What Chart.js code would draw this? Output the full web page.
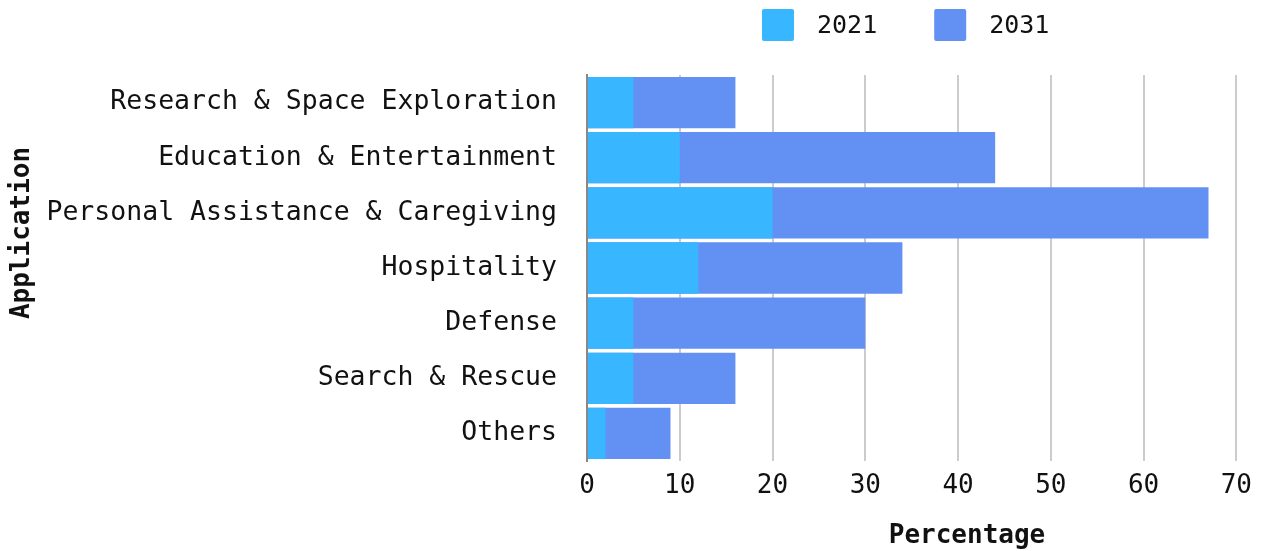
<!DOCTYPE html>
<html lang="en">
<head>
<meta charset="UTF-8">
<title>Application share 2021 vs 2031</title>
<script src="https://cdn.jsdelivr.net/npm/chart.js"></script>
<style>
    html, body { margin: 0; padding: 0; background: #fff; }
    #wrap { width: 1262px; height: 551px; }
</style>
</head>
<body>
<div id="wrap"><canvas id="appChart" width="1262" height="551"></canvas></div>
<script>
var categories = [
    'Research & Space Exploration',
    'Education & Entertainment',
    'Personal Assistance & Caregiving',
    'Hospitality',
    'Defense',
    'Search & Rescue',
    'Others'
];
var values2021 = [5, 10, 20, 12, 5, 5, 2];
var values2031 = [16, 44, 67, 34, 30, 16, 9];
var seriesNames = ['2021', '2031'];
var seriesColors = ['#38B6FF', '#6390F3'];
var xTicks = [0, 10, 20, 30, 40, 50, 60, 70];

var FONT = '"DejaVu Sans Mono", "Liberation Mono", monospace';
var TEXT = '#111';

// legend + axis titles drawn by hand so they can sit where we want them
var decorPlugin = {
    id: 'decor',
    afterDraw: function (chart) {
        var ctx = chart.ctx;
        ctx.save();
        ctx.fillStyle = TEXT;
        ctx.textBaseline = 'middle';

        // legend
        ctx.font = '25px ' + FONT;
        var x = 762, y = 25;
        chart.data.datasets.forEach(function (ds) {
            ctx.fillStyle = ds.backgroundColor;
            ctx.beginPath();
            ctx.roundRect(x, y - 16, 32, 32, 2);
            ctx.fill();
            ctx.fillStyle = TEXT;
            ctx.textAlign = 'left';
            ctx.fillText(ds.label, x + 55, y + 1);
            x += 55 + ctx.measureText(ds.label).width + 57;
        });

        // x title
        ctx.font = 'bold 26px ' + FONT;
        ctx.textAlign = 'center';
        ctx.fillText('Percentage', 967, 536);

        // y title
        ctx.translate(22, 233);
        ctx.rotate(-Math.PI / 2);
        ctx.fillText('Application', 0, 0);
        ctx.restore();
    }
};

var ctx = document.getElementById('appChart').getContext('2d');
var appChart = new Chart(ctx, {
    type: 'bar',
    data: {
        labels: categories,
        datasets: [{
            label: seriesNames[0],
            data: values2021,
            backgroundColor: seriesColors[0],
            grouped: false,
            categoryPercentage: 1,
            barPercentage: 0.93
        }, {
            label: seriesNames[1],
            data: values2031,
            backgroundColor: seriesColors[1],
            grouped: false,
            categoryPercentage: 1,
            barPercentage: 0.93
        }]
    },
    options: {
        indexAxis: 'y',
        responsive: false,
        animation: false,
        layout: { padding: { top: 75, right: 21, left: 0, bottom: 0 } },
        plugins: {
            legend: { display: false },
            tooltip: { enabled: false }
        },
        scales: {
            x: {
                min: 0,
                max: 70,
                afterBuildTicks: function (axis) {
                    axis.ticks = xTicks.map(function (v) { return { value: v }; });
                },
                afterFit: function (axis) { axis.height = 90; },
                grid: { color: '#cccccc', lineWidth: 2, drawTicks: false },
                border: { display: false },
                ticks: {
                    padding: 10,
                    color: TEXT,
                    font: { family: FONT, size: 26 }
                }
            },
            y: {
                afterFit: function (axis) { axis.width = 587; },
                grid: { display: false, drawTicks: false },
                border: { display: true, color: '#888888', width: 2 },
                ticks: {
                    padding: 30,
                    color: TEXT,
                    font: { family: FONT, size: 26.5 }
                }
            }
        }
    },
    plugins: [decorPlugin]
});
</script>
</body>
</html>
